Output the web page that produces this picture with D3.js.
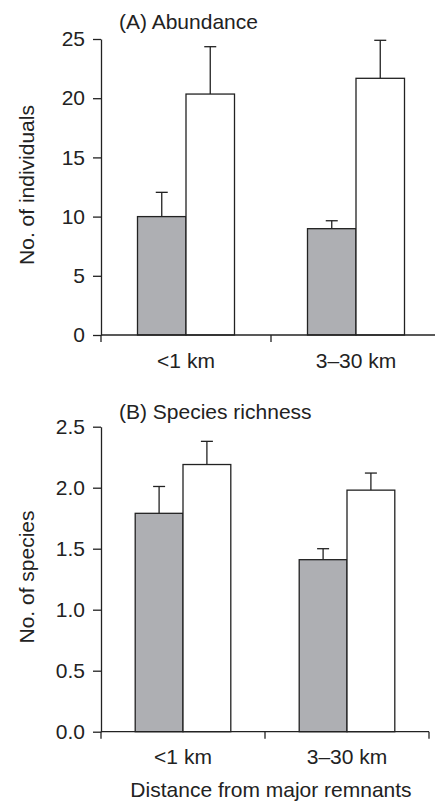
<!DOCTYPE html>
<html><head><meta charset="utf-8">
<script src="https://cdn.jsdelivr.net/npm/d3@7/dist/d3.min.js"></script>
<style>
body{margin:0;background:#fff;}
text{font-family:"Liberation Sans",Arial,Helvetica,sans-serif;fill:#222;}
</style></head>
<body>
<svg id="c" width="435" height="801"></svg>
<script>
// Data
const categories = ["<1 km", "3\u201330 km"];
const seriesNames = ["near", "far"];
const abundanceMean = [[10.0, 20.35], [8.98, 21.68]];
const abundanceErr  = [[12.05, 24.35], [9.65, 24.89]];
const richnessMean  = [[1.79, 2.19], [1.41, 1.98]];
const richnessErr   = [[2.01, 2.38], [1.50, 2.12]];
const abundanceTicks = [0, 5, 10, 15, 20, 25];
const richnessTicks = [0, 0.5, 1.0, 1.5, 2.0, 2.5];
const fills = ["#aeafb3", "#ffffff"];

const svg = d3.select("#c");
const ink = "#222";
const FS = 21;

function panel(opts){
  const g = svg.append("g");
  const y = d3.scaleLinear().domain([0, opts.max]).range([opts.y0, opts.y1]);
  const x = d3.scaleBand().domain(categories).range([opts.x0, opts.x1]).paddingInner(0).paddingOuter(0);
  const xs = d3.scaleBand().domain(seriesNames).range([0, opts.barW*2]);

  // y axis
  const ya = g.append("g").attr("transform", `translate(${opts.x0},0)`)
    .call(d3.axisLeft(y).tickValues(opts.ticks).tickFormat(opts.fmt).tickSize(8).tickSizeOuter(0).tickPadding(8));
  ya.select(".domain").attr("stroke", ink).attr("stroke-width", 1.3);
  ya.selectAll(".tick line").attr("stroke", ink).attr("stroke-width", 1.3);
  ya.selectAll(".tick text").attr("font-size", FS).attr("fill", ink)
    .style("font-family", '"Liberation Sans",Arial,sans-serif');

  // bars
  categories.forEach((c, ci) => {
    const left = x(c) + x.bandwidth()/2 - opts.barW;
    seriesNames.forEach((s, si) => {
      const v = opts.mean[ci][si], e = opts.err[ci][si];
      const bx = left + xs(s);
      const cx = bx + xs.bandwidth()/2;
      g.append("line").attr("x1", cx).attr("x2", cx).attr("y1", y(v)).attr("y2", y(e))
        .attr("stroke", ink).attr("stroke-width", 1.3);
      g.append("line").attr("x1", cx-6).attr("x2", cx+6).attr("y1", y(e)).attr("y2", y(e))
        .attr("stroke", ink).attr("stroke-width", 1.3);
      g.append("rect").attr("x", bx).attr("y", y(v)).attr("width", xs.bandwidth()).attr("height", y(0)-y(v))
        .attr("fill", fills[si]).attr("stroke", ink).attr("stroke-width", 1.3);
    });
  });

  // x axis
  g.append("line").attr("x1", opts.x0).attr("x2", opts.x1).attr("y1", y(0)).attr("y2", y(0))
    .attr("stroke", ink).attr("stroke-width", 1.3);
  const edges = [opts.x0].concat(categories.map(c => x(c) + x.bandwidth()));
  edges.forEach(ex => {
    g.append("line").attr("x1", ex).attr("x2", ex).attr("y1", y(0)).attr("y2", y(0)+7)
      .attr("stroke", ink).attr("stroke-width", 1.3);
  });
  categories.forEach(c => {
    g.append("text").attr("x", x(c)+x.bandwidth()/2).attr("y", opts.labY)
      .attr("text-anchor", "middle").attr("font-size", FS).text(c);
  });

  // title
  g.append("text").attr("x", 119).attr("y", opts.titleY).attr("font-size", FS).text(opts.title);
  // y label
  g.append("text").attr("transform", `translate(34,${opts.yLabC}) rotate(-90)`)
    .attr("text-anchor", "middle").attr("font-size", FS).text(opts.ylab);
  return g;
}

panel({max:25, y0:335, y1:39, x0:101, x1:441, barW:48.5, ticks:abundanceTicks, fmt:d3.format("d"),
  mean:abundanceMean, err:abundanceErr, labY:368, titleY:29, title:"(A) Abundance",
  yLabC:185, ylab:"No. of individuals"});
panel({max:2.5, y0:731.7, y1:426.7, x0:101, x1:429, barW:47.8, ticks:richnessTicks, fmt:d3.format(".1f"),
  mean:richnessMean, err:richnessErr, labY:764, titleY:419, title:"(B) Species richness",
  yLabC:577, ylab:"No. of species"});

svg.append("text").attr("x", 271).attr("y", 797).attr("text-anchor", "middle").attr("font-size", FS)
  .text("Distance from major remnants");
</script>
</body></html>
